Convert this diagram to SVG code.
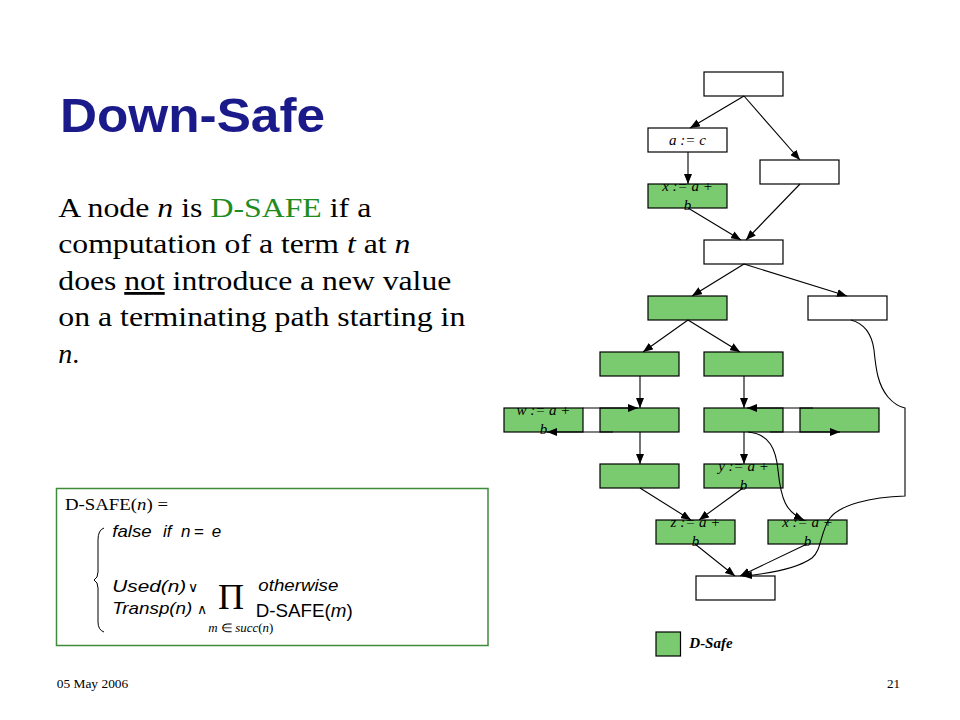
<svg xmlns="http://www.w3.org/2000/svg" width="960" height="720" viewBox="0 0 960 720">
<defs>
<style>
.nw{fill:#ffffff;stroke:#000;stroke-width:1.2}
.ng{fill:#7acb70;stroke:#000;stroke-width:1.2}
.lb{font-family:"Liberation Serif","Times New Roman",serif;font-style:italic;font-size:15px;fill:#000;text-anchor:middle}
.e{fill:none;stroke:#000;stroke-width:1.1;marker-end:url(#ah)}
.body{font-family:"Liberation Serif","Times New Roman",serif;font-size:28px;fill:#000}
.fa{font-family:"Liberation Sans",Arial,sans-serif;font-style:italic;font-size:17px;fill:#000}
.fu{font-family:"Liberation Sans",Arial,sans-serif;font-style:normal;fill:#000}
.fs{font-family:"Liberation Serif","Times New Roman",serif;fill:#000}
.it{font-style:italic}
</style>
<marker id="ah" viewBox="0 0 10 8" refX="10" refY="4" markerWidth="10" markerHeight="8" markerUnits="userSpaceOnUse" orient="auto">
<path d="M0,0 L10,4 L0,8 z" fill="#000"/>
</marker>
</defs>
<rect width="960" height="720" fill="#ffffff"/>

<text x="60" y="131.7" font-family="'Liberation Sans',Arial,sans-serif" font-weight="bold" font-size="49" fill="#1a1a8a" textLength="265" lengthAdjust="spacingAndGlyphs">Down-Safe</text>

<g id="body">
<text class="body" x="58.3" y="216.7" textLength="313" lengthAdjust="spacingAndGlyphs">A node <tspan class="it">n</tspan> is <tspan fill="#1e8c1e">D-SAFE</tspan> if a</text>
<text class="body" x="58.3" y="253.3" textLength="352" lengthAdjust="spacingAndGlyphs">computation of a term <tspan class="it">t</tspan> at <tspan class="it">n</tspan></text>
<text class="body" x="58.3" y="290" textLength="393" lengthAdjust="spacingAndGlyphs">does <tspan text-decoration="underline">not</tspan> introduce a new value</text>
<text class="body" x="58.3" y="326" textLength="407" lengthAdjust="spacingAndGlyphs">on a terminating path starting in</text>
<text class="body" x="58.3" y="362.7"><tspan class="it">n</tspan>.</text>
</g>

<g id="formula">
<rect x="56.5" y="488.5" width="431.5" height="157" fill="#ffffff" stroke="#3c8c3c" stroke-width="1.5"/>
<text class="fs" x="65" y="510" font-size="17" textLength="103" lengthAdjust="spacingAndGlyphs">D-SAFE(<tspan class="it">n</tspan>) =</text>
<path d="M104,528 Q98,530 98,540 L98,572 Q98,578 94,580 Q98,582 98,588 L98,622 Q98,630 104,632" fill="none" stroke="#000" stroke-width="1"/>
<text class="fa" x="112.3" y="537.3" textLength="39.4" lengthAdjust="spacingAndGlyphs">false</text>
<text class="fa" x="163" y="537.3">if</text>
<text class="fa" x="181" y="537.3">n</text>
<text class="fu" x="194" y="537.3" font-size="17">=</text>
<text class="fa" x="211.7" y="537.3">e</text>
<text class="fa" x="112.3" y="591.7" textLength="74" lengthAdjust="spacingAndGlyphs">Used(n)</text>
<text class="fs" x="188" y="591.7" font-size="14" fill="#444">∨</text>
<text class="fa" x="112.3" y="614.3" textLength="80" lengthAdjust="spacingAndGlyphs">Transp(n)</text>
<text class="fs" x="196.5" y="614.3" font-size="14" fill="#444">∧</text>
<text class="fs" x="218" y="609" font-size="36">Π</text>
<text class="fs" x="208.3" y="631.5" font-size="11.5" textLength="65" lengthAdjust="spacingAndGlyphs"><tspan class="it">m</tspan> ∈ <tspan class="it">succ</tspan>(<tspan class="it">n</tspan>)</text>
<text class="fa" x="258.3" y="591" textLength="80" lengthAdjust="spacingAndGlyphs">otherwise</text>
<text class="fu" x="255.7" y="617" font-size="19" textLength="97" lengthAdjust="spacingAndGlyphs">D-SAFE(<tspan class="it">m</tspan>)</text>
</g>

<g id="nodes">
<g id="n-entry"><rect class="nw" x="704" y="72" width="79" height="24"/></g>
<g id="n-ac"><rect class="nw" x="648" y="128" width="79" height="24"/><text class="lb" x="687.5" y="145">a := c</text></g>
<g id="n-r1"><rect class="nw" x="760" y="160" width="79" height="24"/></g>
<g id="n-x1"><rect class="ng" x="648" y="184" width="79" height="24"/><text class="lb" x="687.5" y="191">x := a +</text><text class="lb" x="687.5" y="209.5">b</text></g>
<g id="n-m"><rect class="nw" x="704" y="240" width="79" height="24"/></g>
<g id="n-g1"><rect class="ng" x="648" y="296" width="79" height="24"/></g>
<g id="n-r2"><rect class="nw" x="808" y="296" width="79" height="24"/></g>
<g id="n-l1"><rect class="ng" x="600" y="352" width="79" height="24"/></g>
<g id="n-r3"><rect class="ng" x="704" y="352" width="79" height="24"/></g>
<g id="n-w"><rect class="ng" x="504" y="408" width="79" height="24"/><text class="lb" x="543.5" y="415">w := a +</text><text class="lb" x="543.5" y="433.5">b</text></g>
<g id="n-l2"><rect class="ng" x="600" y="408" width="79" height="24"/></g>
<g id="n-r4"><rect class="ng" x="704" y="408" width="79" height="24"/></g>
<g id="n-r5"><rect class="ng" x="800" y="408" width="79" height="24"/></g>
<g id="n-l3"><rect class="ng" x="600" y="464" width="79" height="24"/></g>
<g id="n-y"><rect class="ng" x="704" y="464" width="79" height="24"/><text class="lb" x="743.5" y="471">y := a +</text><text class="lb" x="743.5" y="489.5">b</text></g>
<g id="n-z"><rect class="ng" x="656" y="520" width="79" height="24"/><text class="lb" x="695.5" y="527">z := a +</text><text class="lb" x="695.5" y="545.5">b</text></g>
<g id="n-x2"><rect class="ng" x="768" y="520" width="79" height="24"/><text class="lb" x="807.5" y="527">x := a +</text><text class="lb" x="807.5" y="545.5">b</text></g>
<g id="n-exit"><rect class="nw" x="696" y="576" width="79" height="24"/></g>
<g id="legend"><rect class="ng" x="656" y="632" width="24.5" height="24"/><text x="689.3" y="648.3" font-family="'Liberation Serif','Times New Roman',serif" font-style="italic" font-weight="bold" font-size="15" fill="#000">D-Safe</text></g>
</g>

<g id="connectors">
<line class="e" x1="744" y1="96" x2="690" y2="128"/>
<line class="e" x1="744" y1="96" x2="800" y2="160"/>
<line class="e" x1="688" y1="152" x2="688" y2="184"/>
<line class="e" x1="688" y1="208" x2="741" y2="240"/>
<line class="e" x1="800" y1="184" x2="746" y2="240"/>
<line class="e" x1="744" y1="264" x2="692" y2="296"/>
<line class="e" x1="744" y1="264" x2="847" y2="296"/>
<line class="e" x1="688" y1="320" x2="643" y2="352"/>
<line class="e" x1="688" y1="320" x2="740" y2="352"/>
<line class="e" x1="640" y1="376" x2="640" y2="408"/>
<line class="e" x1="744" y1="376" x2="744" y2="408"/>
<line class="e" x1="583" y1="408" x2="638" y2="408"/>
<line class="e" x1="613" y1="432" x2="547" y2="432"/>
<line class="e" x1="813" y1="408" x2="747" y2="408"/>
<line class="e" x1="770" y1="432" x2="840" y2="432"/>
<line class="e" x1="640" y1="432" x2="640" y2="464"/>
<line class="e" x1="744" y1="432" x2="744" y2="464"/>
<path class="e" d="M748,432 C770,434 776,450 778,470 C781,500 786,512 804,520"/>
<line class="e" x1="640" y1="488" x2="691" y2="520"/>
<line class="e" x1="743" y1="488" x2="699" y2="520"/>
<line class="e" x1="695" y1="544" x2="735" y2="576"/>
<line class="e" x1="807" y1="544" x2="740" y2="576"/>
<path class="e" d="M851,320 C866,324 872,335 874,350 C876,370 878,385 888,397 C894,404 900,407 905,408 L905,496 C870,497 840,505 830,518 C820,532 822,550 812,558 C795,570 765,574 742,576"/>
</g>

<g id="footer">
<text x="56.7" y="688.3" font-family="'Liberation Serif','Times New Roman',serif" font-size="13" fill="#000" textLength="71.6" lengthAdjust="spacingAndGlyphs">05 May 2006</text>
<text x="900" y="688.3" font-family="'Liberation Serif','Times New Roman',serif" font-size="13" fill="#000" text-anchor="end">21</text>
</g>
</svg>
